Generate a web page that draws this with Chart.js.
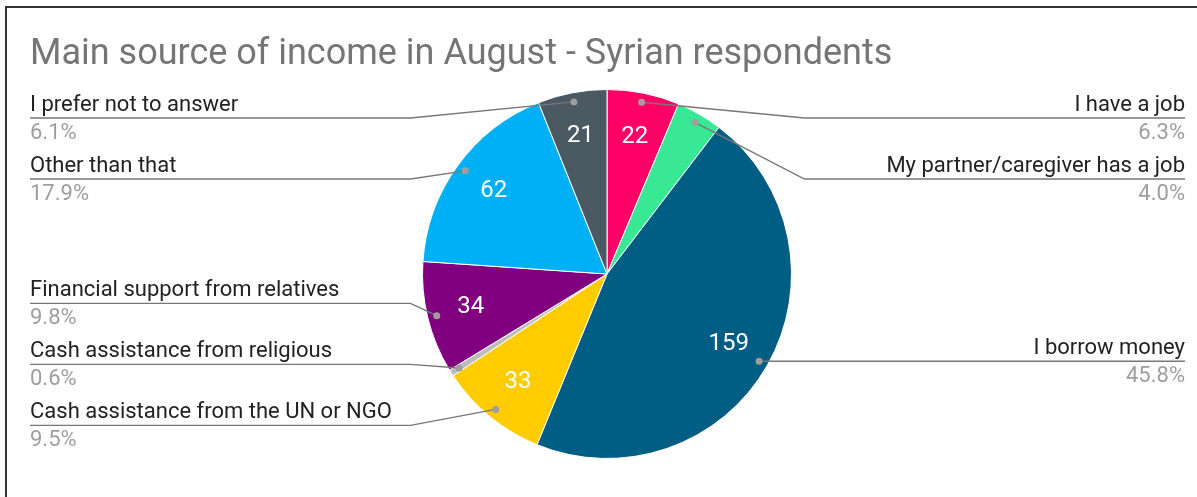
<!DOCTYPE html>
<html>
<head>
<meta charset="utf-8">
<script src="https://cdn.jsdelivr.net/npm/chart.js@4"></script>
<style>
  html, body { margin: 0; padding: 0; background: #fff; }
  #wrap { position: relative; width: 1197px; height: 497px; overflow: hidden; }
  #frame { position: absolute; left: 5px; top: 6px; width: 1300px; height: 600px;
           border-left: 2px solid #333; border-top: 2px solid #333; box-sizing: border-box; }
  canvas { position: absolute; left: 0; top: 0; }
</style>
</head>
<body>
<div id="wrap">
  <div id="frame"></div>
  <canvas id="pie" width="1197" height="497"></canvas>
</div>
<script>
// chart data
const title = "Main source of income in August - Syrian respondents";
const categories = [
  "I have a job",
  "My partner/caregiver has a job",
  "I borrow money",
  "Cash assistance from the UN or NGO",
  "Cash assistance from religious",
  "Financial support from relatives",
  "Other than that",
  "I prefer not to answer"
];
const counts = [22, 14, 159, 33, 2, 34, 62, 21];
const colors = ["#ff0066", "#38e894", "#005d84", "#ffcc00", "#bdbdbd", "#800080", "#00b0f6", "#4b5962"];

const FONT = "Roboto, 'Noto Sans', sans-serif";

/* =========================
   LABELS + LEADER LINES
========================= */
const labelPlugin = {
  id: "sideLabels",
  afterDatasetsDraw(chart) {
    const ctx = chart.ctx;
    const meta = chart.getDatasetMeta(0);
    const total = counts.reduce((a, b) => a + b, 0);
    const left = [], right = [];

    meta.data.forEach((arc, i) => {
      const mid = (arc.startAngle + arc.endAngle) / 2;
      const r = arc.outerRadius;
      const item = {
        i,
        cx: arc.x, cy: arc.y, r,
        dotX: arc.x + Math.cos(mid) * r * 0.95,
        dotY: arc.y + Math.sin(mid) * r * 0.95,
        numX: arc.x + Math.cos(mid) * r * 0.76,
        numY: arc.y + Math.sin(mid) * r * 0.76
      };
      item.y = item.dotY;
      (Math.cos(mid) >= 0 ? right : left).push(item);

      // value inside slice (small slices get none)
      if (counts[i] / total > 0.05) {
        ctx.save();
        ctx.fillStyle = "#fff";
        ctx.font = "24px " + FONT;
        ctx.textAlign = "center";
        ctx.textBaseline = "middle";
        ctx.fillText(String(counts[i]), item.numX, item.numY);
        ctx.restore();
      }
    });

    // spread labels so they don't overlap
    function spread(list) {
      const gap = 61, minY = 118;
      list.sort((a, b) => a.dotY - b.dotY);
      let groups = list.map(it => ({ items: [it], ideal: [it.dotY] }));
      let changed = true;
      const place = g => {
        const n = g.items.length;
        const mean = g.ideal.reduce((a, b) => a + b, 0) / n;
        g.start = mean - (n - 1) * gap / 2;
      };
      groups.forEach(place);
      while (changed) {
        changed = false;
        for (let k = 0; k < groups.length - 1; k++) {
          const a = groups[k], b = groups[k + 1];
          if (a.start + a.items.length * gap > b.start) {
            a.items = a.items.concat(b.items);
            a.ideal = a.ideal.concat(b.ideal);
            place(a);
            groups.splice(k + 1, 1);
            changed = true;
            break;
          }
        }
        if (groups.length && groups[0].start < minY) {
          groups[0].start = minY;
          if (groups.length > 1) {
            const a = groups[0], b = groups[1];
            if (a.start + a.items.length * gap > b.start) {
              a.items = a.items.concat(b.items);
              a.ideal = a.ideal.concat(b.ideal);
              place(a);
              if (a.start < minY) a.start = minY;
              groups.splice(1, 1);
              changed = true;
            }
          }
        }
      }
      groups.forEach(g => g.items.forEach((it, k) => { it.y = g.start + k * gap; }));
    }
    spread(left);
    spread(right);

    function drawSide(list, isRight) {
      list.forEach(it => {
        const elbow = isRight ? it.cx + it.r + 13 : it.cx - it.r - 12;
        const edge = isRight ? 1185 : 30;
        ctx.save();
        ctx.strokeStyle = "#777";
        ctx.lineWidth = 1.4;
        ctx.beginPath();
        ctx.moveTo(edge, it.y);
        ctx.lineTo(elbow, it.y);
        ctx.lineTo(it.dotX, it.dotY);
        ctx.stroke();
        ctx.fillStyle = "#9e9e9e";
        ctx.beginPath();
        ctx.arc(it.dotX, it.dotY, 3.5, 0, Math.PI * 2);
        ctx.fill();

        ctx.textAlign = isRight ? "right" : "left";
        ctx.textBaseline = "alphabetic";
        ctx.font = "22px " + FONT;
        ctx.fillStyle = "#222";
        ctx.fillText(categories[it.i], edge, it.y - 7);
        ctx.fillStyle = "#9e9e9e";
        ctx.fillText((counts[it.i] / total * 100).toFixed(1) + "%", edge, it.y + 21);
        ctx.restore();
      });
    }
    drawSide(left, false);
    drawSide(right, true);

    // title
    ctx.save();
    ctx.font = "36px " + FONT;
    ctx.fillStyle = "#757575";
    ctx.textAlign = "left";
    ctx.textBaseline = "alphabetic";
    ctx.fillText(title, 30, 64);
    ctx.restore();
  }
};

new Chart(document.getElementById("pie"), {
  type: "pie",
  data: {
    labels: categories,
    datasets: [{
      data: counts,
      backgroundColor: colors,
      borderColor: "#fff",
      borderWidth: 1,
      hoverOffset: 0
    }]
  },
  options: {
    responsive: false,
    animation: false,
    layout: { padding: { left: 300, right: 283, top: 89, bottom: 38 } },
    plugins: {
      legend: { display: false },
      tooltip: { enabled: false }
    }
  },
  plugins: [labelPlugin]
});
</script>
</body>
</html>
